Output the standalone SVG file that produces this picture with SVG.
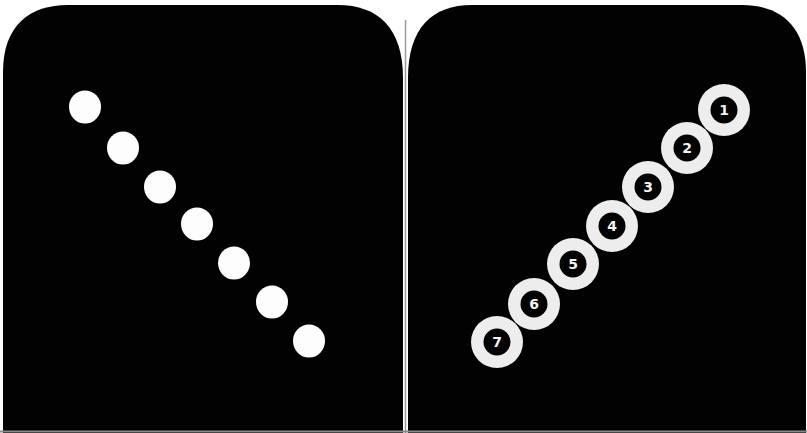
<svg xmlns="http://www.w3.org/2000/svg" width="807" height="433" viewBox="0 0 807 433">
<style>
.panel{fill:#020202}
.dot{fill:#fdfdfd}
.ring{fill:#ededed}
.hole{fill:#030303}
.num{fill:#f4f4f4;font-family:"DejaVu Sans",sans-serif;font-weight:bold;font-size:14px;text-anchor:middle;dominant-baseline:central}
</style>
<rect width="807" height="433" fill="#ffffff"/>
<g id="left-panel">
<path class="panel" d="M3,433 L3,72 C3,25 30,5 68,5 L338,5 C378,5 403,28 403,78 L403,433 Z"/>
</g>
<g id="right-panel">
<path class="panel" d="M408,433 L408,78 C408,28 432,5 472,5 L742,5 C780,5 806,26 806,72 L806,433 Z"/>
</g>
<line x1="405.5" y1="20" x2="405.5" y2="433" stroke="#9a9a9a" stroke-width="1.5"/>
<line x1="0" y1="431.5" x2="807" y2="431.5" stroke="#8a8a8a" stroke-width="2"/>
<g id="dots">
<g id="dot-1"><ellipse class="dot" cx="85" cy="107" rx="16" ry="16.5"/></g>
<g id="dot-2"><ellipse class="dot" cx="123" cy="148" rx="16" ry="16.5"/></g>
<g id="dot-3"><ellipse class="dot" cx="160" cy="187" rx="16" ry="16.5"/></g>
<g id="dot-4"><ellipse class="dot" cx="197" cy="224" rx="16" ry="16.5"/></g>
<g id="dot-5"><ellipse class="dot" cx="234" cy="263" rx="16" ry="16.5"/></g>
<g id="dot-6"><ellipse class="dot" cx="272" cy="302" rx="16" ry="16.5"/></g>
<g id="dot-7"><ellipse class="dot" cx="309" cy="341" rx="16" ry="16.5"/></g>
</g>
<g id="rings">
<g id="ring-1"><circle class="ring" cx="724" cy="110" r="26"/><circle class="hole" cx="724" cy="110" r="13.5"/><text class="num" x="724" y="110">1</text></g>
<g id="ring-2"><circle class="ring" cx="687" cy="148" r="26"/><circle class="hole" cx="687" cy="148" r="13.5"/><text class="num" x="687" y="148">2</text></g>
<g id="ring-3"><circle class="ring" cx="648" cy="187" r="26"/><circle class="hole" cx="648" cy="187" r="13.5"/><text class="num" x="648" y="187">3</text></g>
<g id="ring-4"><circle class="ring" cx="612" cy="226" r="26"/><circle class="hole" cx="612" cy="226" r="13.5"/><text class="num" x="612" y="226">4</text></g>
<g id="ring-5"><circle class="ring" cx="573" cy="264" r="26"/><circle class="hole" cx="573" cy="264" r="13.5"/><text class="num" x="573" y="264">5</text></g>
<g id="ring-6"><circle class="ring" cx="534" cy="304" r="26"/><circle class="hole" cx="534" cy="304" r="13.5"/><text class="num" x="534" y="304">6</text></g>
<g id="ring-7"><circle class="ring" cx="497" cy="342" r="26"/><circle class="hole" cx="497" cy="342" r="13.5"/><text class="num" x="497" y="342">7</text></g>
</g>
</svg>
